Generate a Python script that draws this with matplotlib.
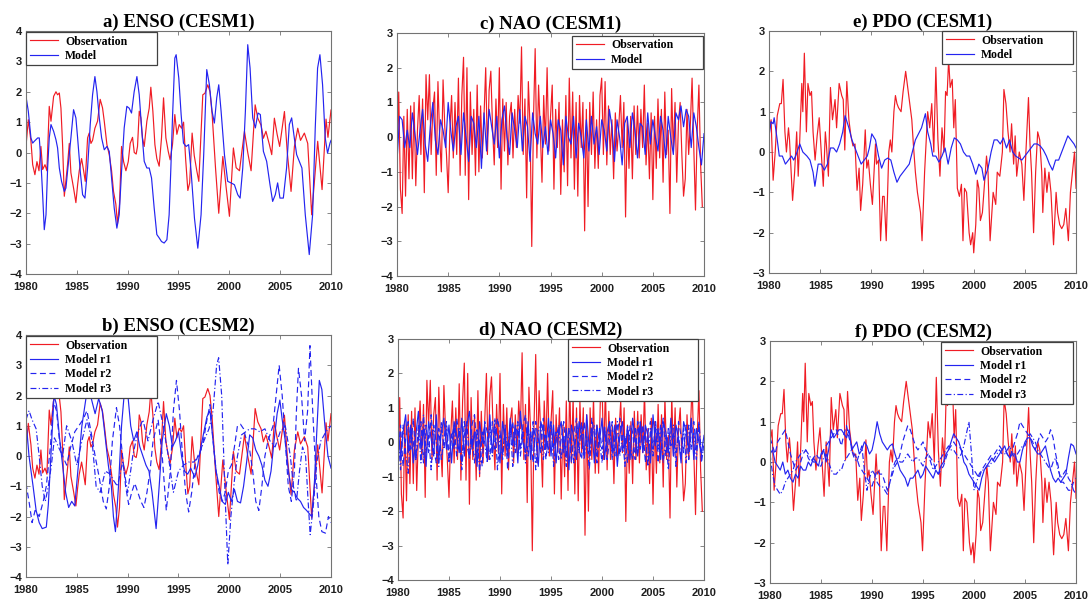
import numpy as np
import matplotlib
matplotlib.use("Agg")
import matplotlib.pyplot as plt

################################################################################
# Data: (year, value) pairs or regularly spaced values
################################################################################
YEAR_TICKS = [1980, 1985, 1990, 1995, 2000, 2005, 2010]

# ENSO observation (panels a and b)
enso_obs = [
    (1980.0, 0.2), (1980.23, 1.08), (1980.49, 0.37), (1980.66, -0.4), (1980.88, -0.73),
    (1981.08, -0.3), (1981.28, -0.6), (1981.47, 0.2), (1981.64, -0.56), (1981.87, -0.4),
    (1982.06, -0.6), (1982.29, 1.52), (1982.46, 1.03), (1982.72, 1.85), (1982.95, 2.0),
    (1983.11, 1.9), (1983.28, 1.96), (1983.44, 1.46), (1983.6, 0.26), (1983.77, -1.44),
    (1984.09, -0.4), (1984.26, 0.3), (1984.42, -0.67), (1984.68, -1.17), (1984.91, -1.65),
    (1985.08, -1.06), (1985.24, -0.6), (1985.47, -0.2), (1985.67, -0.6), (1985.83, -0.95),
    (1986.06, 0.48), (1986.22, 0.64), (1986.39, 0.3), (1986.55, 0.4), (1986.78, 0.8),
    (1987.04, 1.03), (1987.3, 1.75), (1987.53, 1.47), (1987.7, 1.03), (1987.96, 0.26),
    (1988.19, -0.07), (1988.42, -0.6), (1988.61, -1.28), (1988.84, -1.7), (1989.0, -2.35),
    (1989.2, -1.7), (1989.4, 0.2), (1989.6, -0.3), (1989.83, -0.6), (1990.06, -0.3),
    (1990.25, 0.3), (1990.48, 0.5), (1990.65, 0.0), (1990.84, -0.05), (1990.97, 0.2),
    (1991.14, 1.36), (1991.3, 1.14), (1991.46, 0.48), (1991.63, 0.2), (1991.89, 1.03),
    (1992.12, 1.46), (1992.28, 2.15), (1992.48, 1.36), (1992.68, 0.26), (1992.87, -0.2),
    (1993.1, -0.45), (1993.33, 0.48), (1993.53, 1.8), (1993.76, 0.48), (1993.99, 0.04),
    (1994.18, -0.24), (1994.41, 0.26), (1994.64, 1.25), (1994.84, 0.6), (1995.07, 0.92),
    (1995.3, 0.8), (1995.5, 1.0), (1995.7, -0.2), (1995.92, -1.25), (1996.1, -1.0),
    (1996.34, 0.64), (1996.55, -0.1), (1996.8, -0.6), (1997.0, -0.95), (1997.39, 1.9),
    (1997.6, 1.95), (1997.88, 2.23), (1998.1, 2.0), (1998.31, 1.25), (1998.64, -0.5),
    (1998.96, -2.0), (1999.36, -0.13), (1999.69, -1.16), (2000.01, -2.1), (2000.4, 0.15),
    (2000.67, -0.5), (2001.0, -0.6), (2001.49, 0.7), (2001.81, 0.0), (2002.14, -0.6),
    (2002.54, 1.57), (2002.8, 1.13), (2003.12, 0.9), (2003.35, 0.47), (2003.6, 0.7),
    (2003.94, 0.26), (2004.17, -0.07), (2004.43, 1.13), (2004.7, 0.6), (2004.95, 0.2),
    (2005.42, 1.35), (2005.7, 0.0), (2006.07, -1.28), (2006.4, 0.2), (2006.73, 0.8),
    (2007.0, 0.4), (2007.38, 0.64), (2007.71, 0.3), (2008.1, -2.05), (2008.69, 0.37),
    (2009.12, -1.22), (2009.51, 1.1), (2009.7, 0.5), (2010.0, 1.4)]

# ENSO CESM1 model (panel a)
enso_cesm1 = [
    (1980.0, 1.85), (1980.23, 1.36), (1980.49, 0.48), (1980.66, 0.31), (1980.82, 0.37),
    (1981.15, 0.48), (1981.31, 0.48), (1981.47, -0.29), (1981.64, -1.39), (1981.8, -2.54),
    (1981.97, -2.05), (1982.13, -0.51), (1982.29, 0.48), (1982.46, 0.92), (1982.72, 0.7),
    (1982.95, 0.42), (1983.11, 0.15), (1983.28, -0.51), (1983.5, -0.95), (1983.77, -1.28),
    (1983.93, -1.17), (1984.09, -0.62), (1984.42, 0.48), (1984.68, 1.41), (1984.91, 1.14),
    (1985.08, 0.48), (1985.34, -0.62), (1985.57, -1.39), (1985.8, -1.5), (1986.06, -0.51),
    (1986.32, 0.92), (1986.55, 1.9), (1986.78, 2.5), (1986.98, 2.0), (1987.21, 1.14),
    (1987.44, 0.48), (1987.7, 0.09), (1987.96, 0.2), (1988.19, 0.04), (1988.42, -0.84),
    (1988.68, -1.83), (1988.94, -2.49), (1989.17, -2.05), (1989.4, -0.62), (1989.66, 0.81),
    (1989.92, 1.52), (1990.15, 1.46), (1990.38, 1.3), (1990.64, 2.0), (1990.91, 2.5),
    (1991.14, 1.9), (1991.37, 0.81), (1991.63, -0.29), (1991.89, -0.51), (1992.12, -0.51),
    (1992.35, -0.84), (1992.61, -1.83), (1992.87, -2.7), (1993.1, -2.81), (1993.33, -2.93),
    (1993.59, -2.98), (1993.86, -2.87), (1994.08, -2.05), (1994.25, -0.51), (1994.41, 1.14),
    (1994.64, 3.11), (1994.77, 3.22), (1995.03, 2.45), (1995.26, 1.25), (1995.49, 0.31),
    (1995.75, 0.2), (1996.0, 0.26), (1996.24, -0.62), (1996.57, -2.16), (1996.9, -3.15),
    (1997.22, -2.05), (1997.48, -0.07), (1997.78, 2.73), (1998.04, 2.23), (1998.3, 1.36),
    (1998.53, 0.97), (1998.76, 1.8), (1998.96, 2.23), (1999.19, 1.36), (1999.52, -0.07),
    (1999.84, -0.95), (2000.17, -1.0), (2000.5, -1.06), (2000.83, -1.39), (2001.06, -1.5),
    (2001.32, -0.51), (2001.58, 1.36), (2001.81, 3.55), (2002.04, 2.78), (2002.3, 1.14),
    (2002.56, 0.81), (2002.82, 1.3), (2003.05, 1.25), (2003.35, 0.04), (2003.67, -0.29),
    (2004.0, -1.06), (2004.26, -1.61), (2004.52, -1.39), (2004.75, -1.0), (2004.98, -1.5),
    (2005.31, -1.5), (2005.63, -0.51), (2005.9, 0.92), (2006.13, 1.14), (2006.39, 0.48),
    (2006.62, -0.07), (2006.88, -0.29), (2007.14, -0.51), (2007.47, -2.05), (2007.86, -3.36),
    (2008.19, -2.05), (2008.45, 0.81), (2008.68, 2.78), (2008.91, 3.22), (2009.17, 2.23),
    (2009.43, 0.48), (2009.66, -0.02), (2009.9, 0.31), (2010.0, 0.4)]

# ENSO CESM2 members (panel b)
enso_r1 = [
    (1980.0, 1.2), (1980.3, 0.0), (1980.7, -1.0), (1981.0, -1.8), (1981.3, -2.2), (1981.6, -2.4),
    (1982.0, -2.35), (1982.2, -1.6), (1982.45, 0.0), (1982.76, 2.0), (1983.0, 1.7), (1983.3, 0.6),
    (1983.6, -0.3), (1983.9, -1.2), (1984.2, -1.7), (1984.5, -1.5), (1984.8, -1.65), (1985.1, -0.5),
    (1985.5, 1.0), (1985.94, 2.0), (1986.2, 2.2), (1986.5, 1.8), (1986.8, 1.4), (1987.15, 1.9),
    (1987.5, 1.5), (1987.8, 0.6), (1988.1, -0.3), (1988.4, -1.0), (1988.6, -2.0), (1988.8, -2.5),
    (1989.1, -1.0), (1989.4, 1.0), (1989.7, 2.2), (1990.0, 2.1), (1990.3, 1.0), (1990.6, 0.5),
    (1990.9, 0.8), (1991.2, 0.3), (1991.5, 0.0), (1991.8, -0.3), (1992.1, -0.5), (1992.4, -1.2),
    (1992.6, -1.8), (1992.8, -2.4), (1993.1, -1.0), (1993.4, 0.5), (1993.8, 1.4), (1994.1, 1.0),
    (1994.4, 0.3), (1994.7, 0.5), (1995.0, 0.8), (1995.3, 0.0), (1995.6, -0.5), (1995.9, -0.6),
    (1996.2, -0.4), (1996.6, -0.7), (1996.9, -0.3), (1997.2, 0.3), (1997.5, 0.8), (1997.8, 1.3),
    (1998.1, 1.5), (1998.4, 0.5), (1998.7, -0.5), (1999.0, -1.0), (1999.3, -1.5), (1999.6, -1.6),
    (1999.9, -1.2), (2000.2, -1.5), (2000.5, -1.1), (2000.8, -1.5), (2001.1, -1.55), (2001.4, -1.0),
    (2001.7, -0.2), (2002.0, 0.7), (2002.3, 0.6), (2002.6, 0.2), (2002.9, 0.0), (2003.2, -0.3),
    (2003.5, -0.8), (2003.8, -1.0), (2004.1, -0.5), (2004.4, 0.5), (2004.7, 1.4), (2004.97, 1.85),
    (2005.2, 1.2), (2005.5, 0.5), (2005.8, -0.5), (2006.1, -1.1), (2006.4, -1.2), (2006.7, -1.4),
    (2007.0, -1.5), (2007.3, -1.7), (2007.6, -1.8), (2008.1, -2.0), (2008.35, -1.0), (2008.6, 0.8),
    (2008.85, 2.5), (2009.1, 2.2), (2009.4, 1.0), (2009.7, 0.0), (2010.0, -0.4)]
enso_r2 = [
    (1980.0, -0.9), (1980.3, -1.5), (1980.6, -2.2), (1980.9, -1.8), (1981.3, -2.0), (1981.7, -1.5),
    (1982.0, -1.0), (1982.4, 0.3), (1982.7, 1.8), (1983.0, 1.5), (1983.3, 0.5), (1983.6, 0.0),
    (1984.0, -0.3), (1984.4, 0.3), (1984.8, 0.8), (1985.2, 1.0), (1985.6, 1.2), (1986.0, 1.5),
    (1986.4, 0.8), (1986.8, 0.0), (1987.2, -0.7), (1987.6, -1.5), (1987.9, -1.75), (1988.2, -1.0),
    (1988.5, 0.5), (1988.9, 1.6), (1989.2, 1.0), (1989.5, 0.0), (1989.8, -1.0), (1990.1, -1.6),
    (1990.4, -1.2), (1990.7, -0.9), (1991.0, -1.2), (1991.3, -1.5), (1991.6, -1.7), (1991.9, -1.2),
    (1992.2, -0.5), (1992.5, 0.5), (1993.0, 1.2), (1993.4, 0.0), (1993.8, -1.8), (1994.2, -0.5),
    (1994.5, 1.5), (1994.8, 2.5), (1995.1, 1.5), (1995.4, 0.0), (1995.7, -1.2), (1996.0, -1.85),
    (1996.3, -1.2), (1996.6, -0.3), (1996.9, 0.0), (1997.2, 0.2), (1997.5, 0.6), (1997.8, 1.2),
    (1998.1, 1.7), (1998.4, 0.5), (1998.7, -0.5), (1999.0, -1.2), (1999.3, -1.5), (1999.6, -1.2),
    (1999.9, -0.5), (2000.2, -0.3), (2000.5, 0.3), (2000.8, 1.0), (2001.1, 1.05), (2001.4, 0.9),
    (2001.7, 0.5), (2002.0, 0.2), (2002.3, -0.5), (2002.6, -1.5), (2002.9, -1.8), (2003.2, -1.0),
    (2003.5, 0.0), (2003.8, 0.5), (2004.3, 1.0), (2004.6, 2.0), (2004.9, 3.0), (2005.2, 2.0),
    (2005.5, 0.5), (2005.8, -1.0), (2006.1, -1.5), (2006.4, -0.5), (2006.6, 1.5), (2006.8, 2.9),
    (2007.1, 2.0), (2007.4, 0.5), (2007.7, 1.5), (2007.93, 3.65), (2008.2, 1.5), (2008.5, -0.5),
    (2008.8, -2.0), (2009.1, -2.5), (2009.45, -2.55), (2009.75, -2.0), (2010.0, -2.2)]
enso_r3 = [
    (1980.0, 1.2), (1980.3, 1.5), (1980.6, 1.2), (1981.0, 0.9), (1981.3, 0.0), (1981.6, -1.0),
    (1981.9, -1.5), (1982.2, -1.0), (1982.5, -0.3), (1982.8, 0.6), (1983.2, 0.3), (1983.6, 0.0),
    (1984.0, 1.0), (1984.5, 0.5), (1985.0, -0.3), (1985.5, 0.5), (1986.0, 1.2), (1986.5, 0.5),
    (1986.9, -1.0), (1987.3, -1.2), (1987.8, -0.5), (1988.3, -0.6), (1988.6, -0.8), (1989.0, -1.0),
    (1989.5, -0.2), (1990.0, -1.2), (1990.5, 0.0), (1991.0, 0.8), (1991.5, 1.2), (1992.0, 0.5),
    (1992.5, 1.2), (1993.0, 1.8), (1993.5, 1.0), (1994.0, 0.0), (1994.5, -1.2), (1995.0, -0.5),
    (1995.5, -0.3), (1996.0, -0.2), (1996.5, -0.2), (1997.0, 0.0), (1997.5, 0.5), (1998.0, 0.9),
    (1998.4, 1.5), (1998.75, 3.0), (1998.95, 3.25), (1999.25, 2.0), (1999.55, -1.0), (1999.85, -3.6),
    (2000.15, -2.0), (2000.5, -0.8), (2000.8, 0.0), (2001.2, 0.7), (2001.6, 0.8), (2002.0, 0.9),
    (2002.5, 0.9), (2003.0, 0.8), (2003.5, 0.9), (2004.0, 0.5), (2004.5, 0.3), (2005.0, 0.8),
    (2005.5, 1.0), (2006.0, 0.0), (2006.3, -1.0), (2006.6, -1.5), (2006.9, -0.5), (2007.2, 0.3),
    (2007.5, 0.0), (2007.75, -1.5), (2007.95, -2.6), (2008.3, -1.5), (2008.6, -0.2), (2009.0, 0.5),
    (2009.5, 0.8), (2010.0, 1.0)]

# NAO observation, every 2 months from Jan 1980 (panels c and d)
nao_obs = [
    -0.7, 1.3, -1.5, -2.2, 0.6, -1.7, 0.8, -1.2, 0.9, -1.2, 1.0, -1.4, 0.2, 1.2, -0.5,
    1.1, -1.6, 1.8, 0.5, 1.8, -0.5, 0.8, 1.3, -1.1, 1.6, 0.0, -1.0, 1.65, 0.3, -0.5,
    -1.6, 0.2, 1.2, -0.6, 1.0, -0.5, 1.7, -1.1, 1.2, 2.3, -1.1, 2.0, -1.8, 1.3, -0.5,
    0.8, -1.1, 1.5, -1.0, 0.9, -0.6, 0.6, 2.0, -0.5, 1.35, 1.9, 0.3, -0.8, 1.1, -0.3,
    2.0, -1.5, 1.1, -0.4, 1.0, -0.8, 0.6, 1.0, -0.6, 0.8, -0.3, 1.2, 0.4, 2.6, -0.5,
    1.1, -1.75, 1.6, 0.3, -3.15, 0.5, 2.55, -0.6, 1.5, 0.2, -1.3, 1.2, -0.2, 2.0, -0.4,
    0.6, 1.5, -1.5, 0.8, -0.3, 1.0, -1.65, 0.5, -1.0, 1.2, -1.4, 1.7, -0.6, 1.3, -1.5,
    1.0, -1.7, 1.2, -0.3, 1.0, -2.7, 0.8, -2.0, 1.0, -0.5, 1.3, -0.9, 0.5, -0.9, 1.2,
    1.7, -0.5, 1.6, -0.8, 0.9, -0.5, 0.5, -1.2, 0.7, -0.4, 0.3, 1.2, -0.3, 1.0, -2.3,
    0.5, -0.9, 0.6, -1.2, 0.9, -0.5, 0.9, -0.6, 0.8, -0.3, 1.5, -0.8, 0.4, -1.2, 0.7,
    -1.8, 0.6, -0.9, 1.1, -0.6, 0.8, -1.3, 1.3, -0.5, 0.2, -2.2, 1.4, -0.4, 1.0, -1.3,
    0.4, 1.0, -0.5, -1.7, -1.2, 0.8, -0.5, 0.4, 1.7, -0.3, -2.1, 0.2, 1.5, -0.8, -2.0]

# NAO models, quarterly from Jan 1980
nao_cesm1 = [
    -0.7, 0.6, 0.5, -0.3, 0.2, -0.3, 0.7, 0.1, -0.5, 0.2, 0.8, -0.2,
    -0.7, 0.3, 1.0, -0.1, -0.5, 0.5, 0.2, -0.3, 1.0, 0.2, -0.4, 0.3,
    0.6, -0.5, 0.7, 0.0, -0.7, 0.6, 0.4, -0.3, 0.6, -0.9, 0.7, -0.4,
    0.8, 0.3, -0.2, 0.6, -0.6, 0.5, 0.9, 0.0, -0.5, 0.7, 0.2, -0.3,
    0.8, -0.4, 0.6, 0.3, -0.7, 0.7, 0.1, -0.2, 0.6, -0.3, 0.3, -0.5,
    0.5, 0.1, -0.6, 0.5, 0.2, -0.8, 0.6, 0.0, -0.2, 0.6, -0.6, 0.4,
    0.0, -0.6, 0.5, -0.4, 0.6, -0.2, 0.3, -0.5, 0.5, 0.2, -0.4, 0.8,
    0.3, -0.7, 0.5, 0.0, -0.8, 0.4, 0.6, -0.3, 0.7, 0.2, -0.6, 0.4,
    0.3, -0.5, 0.7, -0.2, 0.5, 0.0, -0.4, 0.6, 0.2, -0.6, 0.6, 0.0,
    -0.5, 0.7, 0.5, 0.9, 0.3, 0.8, 0.6, -0.3, 0.7, 0.3, -0.3, -0.8, 0.1]
nao_r1 = [
    0.6, -0.5, 0.3, 0.8, -0.3, 0.5, -0.6, 0.2, 0.9, -0.2, 0.4, -0.7,
    0.6, 0.1, -0.4, 0.8, -0.5, 0.3, 0.7, -0.2, 0.5, -0.6, 0.6, 0.2,
    -0.3, 0.7, -0.4, 0.5, 0.9, -0.2, 0.3, -0.7, 0.6, 0.0, 0.5, -0.5,
    0.8, -0.3, 0.4, 0.2, -0.6, 0.6, 0.1, -0.4, 0.7, -0.1, 0.5, -0.6,
    0.9, 0.0, -0.3, 0.6, -0.5, 0.4, 0.2, -0.7, 0.6, 0.3, -0.2, 0.7,
    -0.4, 0.5, -0.6, 0.3, 0.6, -0.3, 0.4, -0.8, 0.5, 0.1, -0.5, 0.6,
    0.2, -0.4, 0.8, -0.2, 0.4, -0.6, 0.5, 0.0, 0.7, -0.5, 0.3, 0.6,
    -0.3, 0.5, -0.7, 0.2, 0.6, -0.2, 0.4, -0.5, 0.7, 0.1, -0.4, 0.6,
    -0.3, 0.5, 0.2, -0.6, 0.8, -0.1, 0.4, -0.5, 0.6, 0.3, -0.3, 0.7,
    -0.4, 0.5, 0.1, -0.6, 0.6, 0.3, -0.2, 0.7, -0.5, 0.4, 0.0, -0.3, 0.2]
nao_r2 = [
    -0.4, 0.5, -0.7, 0.1, 0.6, -0.2, 0.7, -0.5, 0.1, 0.6, -0.6, 0.5,
    -0.3, 0.8, -0.2, -0.6, 0.4, -0.5, 0.1, 0.6, -0.4, 0.3, -0.2, 0.7,
    0.2, -0.6, 0.6, -0.1, -0.4, 0.5, 0.8, -0.3, 0.1, -0.7, 0.6, 0.3,
    -0.5, 0.6, -0.2, 0.7, 0.3, -0.4, 0.5, -0.8, 0.2, 0.6, -0.3, 0.4,
    -0.2, 0.5, 0.8, -0.4, 0.3, -0.6, 0.6, 0.1, -0.3, 0.7, -0.5, 0.2,
    0.6, -0.2, 0.3, -0.5, 0.1, 0.6, -0.4, 0.4, -0.6, 0.3, 0.7, -0.2,
    -0.5, 0.6, 0.0, -0.4, 0.7, 0.2, -0.6, 0.4, -0.2, 0.5, -0.5, 0.1,
    0.6, -0.4, 0.3, 0.7, -0.3, 0.2, -0.6, 0.5, 0.3, -0.5, 0.6, -0.2,
    0.5, -0.6, 0.3, 0.6, -0.2, 0.5, -0.6, 0.2, 0.7, -0.4, 0.4, -0.1,
    0.3, -0.7, 0.6, 0.2, -0.3, 0.5, -0.5, 0.3, 0.6, -0.2, 0.5, -0.6, 0.0]
nao_r3 = [
    0.3, -0.8, 0.5, -0.3, -0.9, 0.4, 0.0, -0.5, 0.5, -0.6, 0.8, -0.3,
    0.2, -0.8, 0.5, 0.0, -0.7, 0.6, -0.2, 0.4, -0.6, 0.1, 0.5, -0.4,
    0.4, -0.8, 0.2, 0.6, -0.5, 0.2, -0.6, 0.4, -0.9, 0.3, 0.0, -0.6,
    0.5, -0.4, 0.7, -0.8, 0.2, -0.5, 0.4, -0.2, 0.5, -0.7, 0.2, 0.6,
    -0.4, 0.3, -0.6, 0.5, -0.2, 0.6, -0.8, 0.3, 0.5, -0.5, 0.2, -0.3,
    0.6, -0.7, 0.1, 0.5, -0.5, 0.2, -0.7, 0.4, 0.0, -0.6, 0.5, -0.3,
    0.6, -0.5, 0.2, -0.8, 0.3, 0.5, -0.4, 0.1, -0.6, 0.4, -0.2, 0.5,
    -0.5, 0.1, 0.6, -0.4, 0.2, -0.7, 0.5, -0.1, -0.5, 0.4, -0.3, 0.6,
    -0.2, 0.3, -0.7, 0.4, -0.4, 0.6, -0.2, 0.5, -0.6, 0.2, -0.8, 0.3,
    0.5, -0.3, 0.2, -0.5, 0.4, -0.6, 0.5, -0.2, 0.3, -0.5, 0.6, -0.4, -0.2]

# PDO observation (panels e and f)
pdo_obs = [
    (1980.0, 0.5), (1980.2, 0.8), (1980.4, -0.7), (1980.6, 0.0), (1980.8, 0.9), (1981.05, 1.2),
    (1981.2, 1.2), (1981.37, 1.8), (1981.55, 0.5), (1981.7, 0.0), (1981.9, 0.6), (1982.0, 0.3),
    (1982.3, -1.2), (1982.5, -0.5), (1982.7, 0.5), (1982.85, -0.6), (1983.0, 0.3), (1983.2, 1.7),
    (1983.3, 1.0), (1983.45, 2.45), (1983.65, 0.5), (1983.8, 1.7), (1984.0, 1.4), (1984.15, 1.5),
    (1984.3, 0.5), (1984.5, -0.2), (1984.7, 0.4), (1984.9, 0.85), (1985.1, 0.0), (1985.3, -0.85),
    (1985.5, 0.5), (1985.6, 0.2), (1985.8, -0.6), (1986.0, 1.6), (1986.2, 0.8), (1986.45, 1.3),
    (1986.6, 0.6), (1986.85, 1.7), (1987.1, 1.4), (1987.25, 1.3), (1987.4, 0.05), (1987.6, 1.75),
    (1987.8, 0.8), (1988.0, 0.4), (1988.2, 0.15), (1988.4, 0.2), (1988.6, -0.95), (1988.8, -0.4),
    (1988.95, -1.45), (1989.15, -0.8), (1989.4, 0.55), (1989.55, -0.4), (1989.7, -0.2),
    (1989.9, -0.8), (1990.1, -1.3), (1990.4, 0.2), (1990.5, -0.3), (1990.7, -0.2), (1990.9, -2.2),
    (1991.1, -1.1), (1991.25, -1.1), (1991.45, -2.2), (1991.7, 0.0), (1991.85, 0.3), (1992.0, 0.0),
    (1992.2, 1.0), (1992.35, 1.4), (1992.5, 1.2), (1992.65, 1.1), (1992.9, 1.0), (1993.1, 1.5),
    (1993.35, 2.0), (1993.55, 1.6), (1993.75, 1.2), (1993.95, 0.8), (1994.1, 0.2), (1994.3, -0.5),
    (1994.5, -1.0), (1994.8, -1.5), (1994.95, -2.2), (1995.2, -0.5), (1995.4, 0.5), (1995.5, 1.0),
    (1995.7, 0.6), (1995.9, 1.2), (1996.1, 0.0), (1996.3, 2.1), (1996.5, 0.3), (1996.7, -0.6),
    (1996.9, 0.6), (1997.1, 0.0), (1997.25, 1.5), (1997.4, 1.4), (1997.55, 2.3), (1997.7, 1.6),
    (1997.9, 1.8), (1998.05, 0.6), (1998.2, 1.3), (1998.4, -0.9), (1998.6, -1.1), (1998.8, -0.8),
    (1998.95, -2.2), (1999.1, -0.9), (1999.3, -1.0), (1999.55, -2.0), (1999.7, -2.3),
    (1999.9, -2.0), (2000.0, -2.5), (2000.2, -1.8), (2000.35, -0.7), (2000.5, -0.9),
    (2000.65, -1.7), (2000.85, -1.5), (2001.05, -0.8), (2001.25, -0.1), (2001.4, -0.5),
    (2001.6, -2.2), (2001.7, -1.8), (2001.9, -1.0), (2002.15, -1.3), (2002.3, -0.5),
    (2002.55, -0.6), (2002.8, 0.0), (2002.95, 1.55), (2003.15, 1.2), (2003.35, 0.5),
    (2003.55, 0.0), (2003.7, 0.7), (2003.9, -0.3), (2004.05, 0.4), (2004.2, -0.6), (2004.45, 0.0),
    (2004.7, -0.3), (2004.9, -1.2), (2005.1, 0.0), (2005.35, 1.35), (2005.5, 0.2), (2005.65, -0.5),
    (2005.85, -2.0), (2006.05, -0.5), (2006.25, 0.5), (2006.45, 0.3), (2006.65, -0.5),
    (2006.75, -1.5), (2006.95, -0.4), (2007.15, -1.0), (2007.35, -0.5), (2007.55, -1.0),
    (2007.8, -2.3), (2008.05, -1.0), (2008.2, -1.5), (2008.4, -1.8), (2008.6, -1.9),
    (2008.8, -1.8), (2009.0, -1.4), (2009.25, -2.2), (2009.45, -1.0), (2009.65, -0.5),
    (2009.85, 0.0), (2010.0, -0.9)]

# PDO CESM1 model (panel e)
pdo_cesm1 = [
    (1980.0, 0.4), (1980.2, 0.75), (1980.4, 0.7), (1980.5, 0.85), (1980.8, 0.3), (1981.0, -0.1),
    (1981.3, -0.1), (1981.6, -0.3), (1981.9, -0.2), (1982.2, -0.1), (1982.4, -0.2), (1982.6, -0.1),
    (1983.0, 0.2), (1983.3, 0.0), (1983.7, -0.1), (1984.0, -0.2), (1984.3, -0.5), (1984.48, -0.85),
    (1984.8, -0.3), (1985.1, -0.3), (1985.4, -0.45), (1985.7, -0.3), (1986.0, 0.1), (1986.3, 0.1),
    (1986.6, 0.0), (1986.9, 0.2), (1987.2, 0.5), (1987.43, 0.9), (1987.8, 0.6), (1988.1, 0.3),
    (1988.4, 0.1), (1988.7, -0.1), (1989.0, -0.3), (1989.3, -0.2), (1989.6, -0.1), (1989.8, 0.1),
    (1990.04, 0.45), (1990.4, 0.3), (1990.7, -0.1), (1991.0, -0.4), (1991.3, -0.2), (1991.6, -0.15),
    (1991.9, -0.2), (1992.2, -0.5), (1992.5, -0.75), (1992.8, -0.6), (1993.1, -0.5), (1993.4, -0.4),
    (1993.7, -0.3), (1994.0, 0.0), (1994.3, 0.3), (1994.6, 0.45), (1994.9, 0.6), (1995.28, 0.95),
    (1995.5, 0.5), (1995.8, 0.2), (1996.0, -0.1), (1996.3, -0.1), (1996.6, -0.25), (1996.9, -0.1),
    (1997.2, 0.1), (1997.5, -0.3), (1997.8, 0.1), (1998.1, 0.35), (1998.4, 0.3), (1998.7, 0.2),
    (1999.0, 0.0), (1999.3, -0.1), (1999.6, -0.1), (1999.9, -0.3), (2000.2, -0.55), (2000.5, -0.3),
    (2000.8, -0.4), (2001.0, -0.7), (2001.4, -0.4), (2001.7, 0.0), (2002.0, 0.3), (2002.3, 0.3),
    (2002.6, 0.2), (2002.9, 0.35), (2003.2, 0.1), (2003.5, 0.3), (2003.8, 0.0), (2004.1, -0.1),
    (2004.4, -0.15), (2004.7, -0.2), (2005.0, -0.1), (2005.3, 0.0), (2005.6, 0.1), (2005.9, 0.2),
    (2006.2, 0.2), (2006.5, 0.15), (2006.8, 0.05), (2007.1, -0.1), (2007.4, -0.3), (2007.7, -0.45),
    (2008.0, -0.2), (2008.3, -0.2), (2008.6, 0.0), (2008.9, 0.2), (2009.2, 0.4), (2009.5, 0.3),
    (2009.8, 0.2), (2010.0, 0.1)]

# PDO CESM2 members, quarterly from Jan 1980 (panel f)
pdo_r1 = [
    0.2, 0.3, 0.0, -0.1, -0.2, 0.0, -0.3, -0.2, -0.4, -0.5, -0.3, -0.4,
    -0.1, -0.2, -0.2, 0.0, -0.1, 0.1, 0.0, -0.1, 0.2, 0.3, 0.0, 0.3,
    0.8, 0.6, 0.7, 0.8, 0.8, 0.7, 0.6, 0.8, 0.3, 0.4, 0.5, 0.2,
    0.3, 0.5, 0.4, 0.2, 0.3, 0.6, 1.0, 0.7, 0.5, 0.4, 0.3, 0.4,
    0.45, 0.2, 0.0, -0.2, -0.3, -0.4, -0.6, -0.4, -0.4, -0.3, -0.2, -0.4,
    -0.3, -0.1, -0.2, -0.3, -0.4, -0.2, -0.3, -0.1, 0.0, 0.2, 0.3, 0.5,
    0.7, 0.6, 0.5, 0.3, 0.0, -0.1, -0.3, -0.4, -0.5, -0.6, -0.7, -0.4,
    -0.2, -0.1, 0.0, 0.1, 0.0, 0.1, 0.2, 0.3, 0.4, 0.2, 0.1, 0.2,
    0.2, 0.0, 0.0, 0.3, 0.5, 0.6, 0.6, 0.4, 0.3, 0.2, 0.2, 0.3,
    0.4, 0.1, -0.2, -0.4, -0.5, -0.4, -0.5, -0.4, -0.3, 0.1, 0.45, 0.4, 0.2]
pdo_r2 = [
    0.6, 0.4, 0.2, 0.5, 0.6, 0.7, 0.8, 0.5, 0.2, 0.0, -0.2, -0.1,
    0.0, 0.2, 0.3, 0.1, 0.0, 0.1, 0.2, 0.1, 0.1, 0.3, 0.4, 0.5,
    0.6, 0.7, 0.8, 0.6, 0.4, 0.7, 0.9, 0.6, 0.4, 0.2, 0.1, -0.1,
    -0.2, -0.3, -0.4, -0.5, -0.6, -0.4, -0.2, -0.3, -0.3, -0.5, -0.7, -0.5,
    -0.3, -0.1, 0.0, 0.2, 0.5, 0.7, 0.9, 0.8, 0.6, 0.4, 0.3, 0.4,
    0.5, 0.3, 0.2, 0.1, 0.0, -0.2, -0.3, -0.2, -0.1, 0.1, 0.3, 0.4,
    0.5, 0.4, 0.4, 0.3, 0.2, 0.1, 0.0, -0.1, -0.2, -0.3, -0.4, -0.2,
    -0.1, 0.0, 0.1, 0.2, 0.2, 0.3, 0.4, 0.3, 0.3, 0.2, 0.1, 0.3,
    0.5, 0.7, 1.0, 0.9, 0.8, 0.7, 0.6, 0.5, 0.3, 0.5, 0.7, 0.6,
    0.5, 0.6, 0.8, 0.6, 0.2, -0.1, -0.5, -0.5, -0.6, -0.7, -0.7, -0.5, -0.4]
pdo_r3 = [
    0.2, -0.3, -0.6, -0.7, -0.8, -0.7, -0.5, -0.4, -0.3, -0.2, 0.0, 0.1,
    0.2, 0.3, 0.3, 0.2, 0.1, 0.0, 0.0, -0.1, -0.1, 0.1, 0.2, 0.0,
    -0.2, -0.3, -0.3, -0.2, -0.2, 0.0, 0.1, 0.2, 0.3, 0.1, 0.0, 0.2,
    0.4, -0.2, -0.7, -0.4, -0.2, -0.3, -0.5, -0.6, -0.6, -0.7, -0.8, -0.5,
    -0.2, 0.0, 0.1, 0.0, 0.0, 0.1, 0.2, 0.1, 0.0, 0.1, 0.1, 0.0,
    -0.1, 0.1, 0.2, 0.0, -0.2, -0.1, 0.0, 0.1, 0.2, 0.3, 0.4, 0.3,
    0.3, 0.2, 0.1, 0.2, 0.4, 0.7, 1.0, 0.2, -0.7, -0.5, -0.3, -0.2,
    -0.2, -0.1, -0.1, 0.0, 0.1, 0.2, 0.3, 0.2, 0.2, 0.3, 0.4, 0.2,
    0.1, 0.2, 0.3, 0.4, 0.4, 0.6, 0.7, 0.6, 0.5, 0.3, 0.2, 0.1,
    0.0, -0.1, -0.2, 0.0, 0.1, -0.2, -0.4, -0.3, -0.2, -0.4, -0.5, -0.7, -0.8]

################################################################################
# Style
################################################################################
RED  = "#f01c24"
BLUE = "#2424f0"
LW   = 0.85
DASH    = (0, (5, 3))
DASHDOT = (0, (5, 2, 1, 2))

plt.rcParams["font.family"] = ["Liberation Sans", "DejaVu Sans"]
plt.rcParams["font.weight"] = "bold"
SERIF = ["Liberation Serif", "DejaVu Serif"]


def pairs(data):
    t, v = zip(*data)
    return np.array(t), np.array(v)


def regular(values, per_year):
    return 1980 + np.arange(len(values)) / per_year, np.array(values)


def setup_axes(rect, ylo, yhi, title):
    ax = fig.add_axes(rect)
    ax.set_xlim(1980, 2010)
    ax.set_ylim(ylo, yhi)
    ax.set_xticks(YEAR_TICKS)
    ax.set_yticks(range(ylo, yhi + 1))
    ax.tick_params(direction="in", length=3, width=0.6, top=True, right=True,
                   color="0.45", labelcolor="0.12", labelsize=8)
    ax.tick_params(axis="x", pad=5.5)
    ax.tick_params(axis="y", pad=3)
    for sp in ax.spines.values():
        sp.set_color("0.45")
        sp.set_linewidth(0.8)
    ax.set_title(title, family=SERIF, fontweight="bold", fontsize=13.5, pad=3)
    return ax


def add_legend(ax, x0, ytop, width):
    # legend box stretched to the width seen in the figure
    leg = ax.legend(loc="upper left", bbox_to_anchor=(x0, ytop, width, 0), mode="expand",
                    prop={"family": SERIF, "weight": "bold", "size": 8.5},
                    frameon=True, fancybox=False, framealpha=1, edgecolor="0.25",
                    borderaxespad=0, handlelength=2.4, handletextpad=0.6,
                    labelspacing=0.2, borderpad=0.3)
    leg.get_frame().set_linewidth(0.9)


################################################################################
# Figure
################################################################################
fig = plt.figure(figsize=(10.91, 6.0), dpi=100)

########################################
# a) ENSO CESM1
########################################
ax = setup_axes([0.0238, 0.5433, 0.2796, 0.405], -4, 4, "a) ENSO (CESM1)")
ax.plot(*pairs(enso_obs), color=RED, lw=LW, label="Observation")
ax.plot(*pairs(enso_cesm1), color=BLUE, lw=LW, label="Model")
add_legend(ax, 0.0, 0.996, 0.43)

########################################
# b) ENSO CESM2
########################################
ax = setup_axes([0.0238, 0.0383, 0.2796, 0.4033], -4, 4, "b) ENSO (CESM2)")
ax.plot(*pairs(enso_obs), color=RED, lw=LW, label="Observation")
ax.plot(*pairs(enso_r1), color=BLUE, lw=LW, label="Model r1")
ax.plot(*pairs(enso_r2), color=BLUE, lw=LW, ls=DASH, label="Model r2")
ax.plot(*pairs(enso_r3), color=BLUE, lw=LW, ls=DASHDOT, label="Model r3")
add_legend(ax, 0.0, 0.996, 0.43)

########################################
# c) NAO CESM1
########################################
ax = setup_axes([0.3639, 0.54, 0.2814, 0.405], -4, 3, "c) NAO (CESM1)")
ax.plot(*regular(nao_obs, 6), color=RED, lw=LW, label="Observation")
ax.plot(*regular(nao_cesm1, 4), color=BLUE, lw=LW, label="Model")
add_legend(ax, 0.570, 0.988, 0.427)

########################################
# d) NAO CESM2
########################################
ax = setup_axes([0.3648, 0.0333, 0.2805, 0.4017], -4, 3, "d) NAO (CESM2)")
ax.plot(*regular(nao_obs, 6), color=RED, lw=LW, label="Observation")
ax.plot(*regular(nao_r1, 4), color=BLUE, lw=LW, label="Model r1")
ax.plot(*regular(nao_r2, 4), color=BLUE, lw=LW, ls=DASH, label="Model r2")
ax.plot(*regular(nao_r3, 4), color=BLUE, lw=LW, ls=DASHDOT, label="Model r3")
add_legend(ax, 0.556, 1.0, 0.425)

########################################
# e) PDO CESM1
########################################
ax = setup_axes([0.7049, 0.545, 0.2814, 0.4033], -3, 3, "e) PDO (CESM1)")
ax.plot(*pairs(pdo_obs), color=RED, lw=LW, label="Observation")
ax.plot(*pairs(pdo_cesm1), color=BLUE, lw=LW, label="Model")
add_legend(ax, 0.5635, 1.0, 0.427)

########################################
# f) PDO CESM2
########################################
ax = setup_axes([0.7058, 0.0283, 0.2805, 0.4033], -3, 3, "f) PDO (CESM2)")
ax.plot(*pairs(pdo_obs), color=RED, lw=LW, label="Observation")
ax.plot(*regular(pdo_r1, 4), color=BLUE, lw=LW, label="Model r1")
ax.plot(*regular(pdo_r2, 4), color=BLUE, lw=LW, ls=DASH, label="Model r2")
ax.plot(*regular(pdo_r3, 4), color=BLUE, lw=LW, ls=DASHDOT, label="Model r3")
add_legend(ax, 0.559, 0.996, 0.431)

fig.savefig("out.png", dpi=100)
